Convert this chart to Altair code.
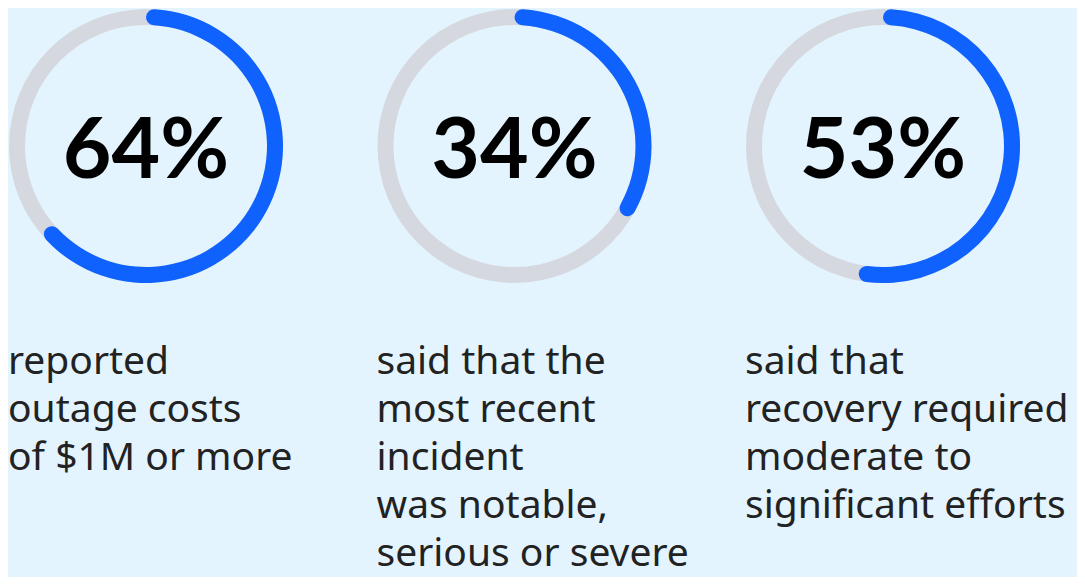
import altair as alt
import pandas as pd

# Data
labels = ["64%", "34%", "53%"]
values = [64, 34, 53]
descriptions = [
    ["reported", "outage costs", "of $1M or more"],
    ["said that the", "most recent", "incident", "was notable,", "serious or severe"],
    ["said that", "recovery required", "moderate to", "significant efforts"],
]
positions = ["a", "b", "c"]

df = pd.DataFrame({
    "pos": positions,
    "value": values,
    "label": labels,
    "desc": descriptions,
    "start": [0, 0, 0],
    "full": [100, 100, 100],
})

BG = "#e3f4fe"
GREY = "#d5d8df"
BLUE = "#0f62fe"

xscale = alt.Scale(type="point", domain=positions, range=[138, 875], padding=0)
tscale = alt.Scale(domain=[0, 100], range=[0, 6.283185307])

base = alt.Chart(df).encode(
    x=alt.X("pos:N", scale=xscale, axis=None),
)

ring = base.mark_arc(outerRadius=137, innerRadius=121, color=GREY).encode(
    y=alt.value(138),
    theta=alt.Theta("start:Q", scale=tscale, stack=None),
    theta2="full:Q",
)

arc = base.mark_arc(outerRadius=137, innerRadius=121, color=BLUE, cornerRadius=8).encode(
    y=alt.value(138),
    theta=alt.Theta("start:Q", scale=tscale, stack=None),
    theta2="value:Q",
)

pct = base.mark_text(
    font="Lato", fontWeight="bold", fontSize=84, color="#000000",
    align="center", baseline="alphabetic",
).encode(
    y=alt.value(170),
    text="label:N",
)

desc = base.mark_text(
    font="Noto Sans", fontSize=39, color="#222222",
    align="left", baseline="alphabetic", dx=-138, lineHeight=48,
).encode(
    y=alt.value(366),
    text="desc",
)

chart = alt.layer(ring, arc, pct, desc).properties(
    width=1069, height=569,
    background=BG,
    padding=0,
    autosize=alt.AutoSizeParams(type="none"),
).configure_view(strokeWidth=0)

chart.save("out.html", embed_options={"renderer": "svg", "actions": False})
